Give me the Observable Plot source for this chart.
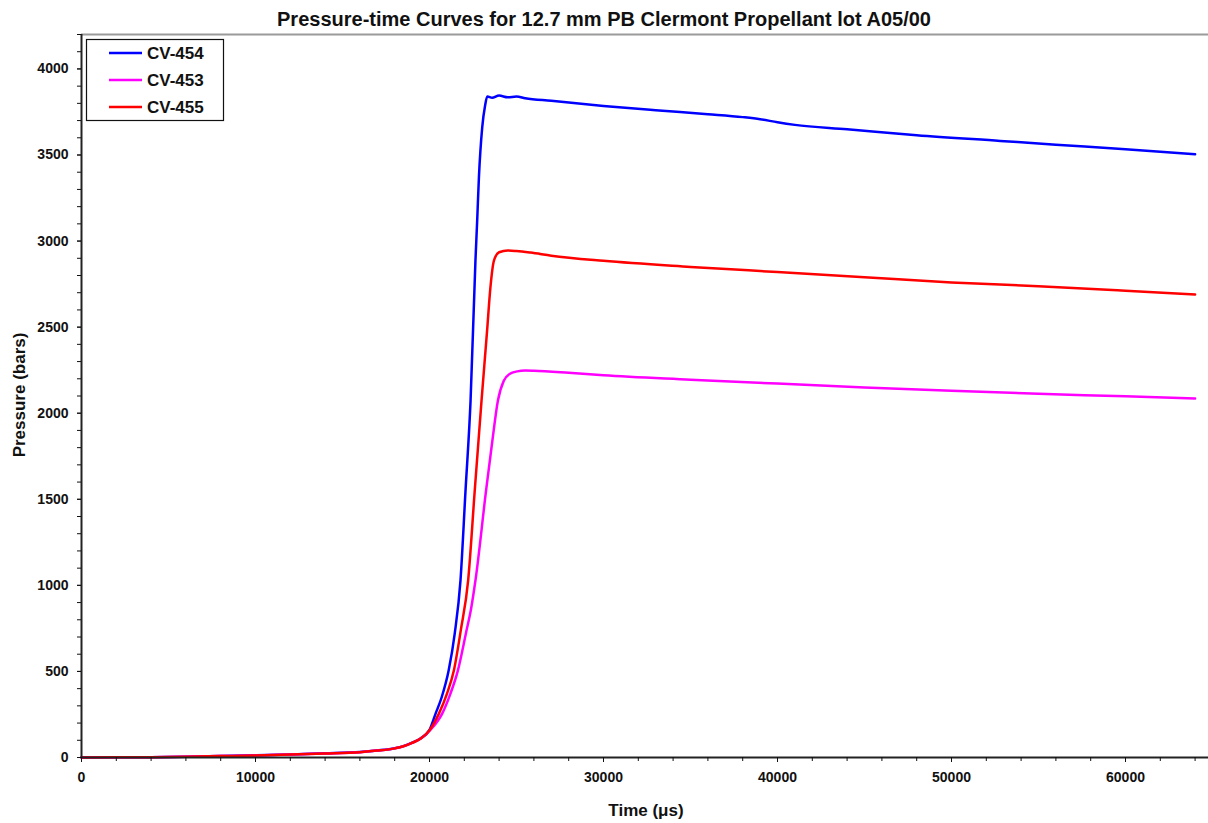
<!DOCTYPE html>
<html>
<head>
<meta charset="utf-8">
<script src="https://cdn.jsdelivr.net/npm/d3@7"></script>
<script src="https://cdn.jsdelivr.net/npm/@observablehq/plot@0.6"></script>
<style>
  body { margin: 0; background: #fff; }
  #wrap { position: relative; width: 1208px; height: 823px; font-family: "Liberation Sans", Arial, sans-serif; }
  #overlay { position: absolute; left: 0; top: 0; pointer-events: none; }
</style>
</head>
<body>
<div id="wrap"></div>
<script>
// ---- Data ----
const titleText = "Pressure-time Curves for 12.7 mm PB Clermont Propellant lot A05/00";
const xLabel = "Time (\u03bcs)";
const yLabel = "Pressure (bars)";
const seriesNames = ["CV-454", "CV-453", "CV-455"];
const seriesColors = ["#0000ff", "#ff00ff", "#ff0000"];

const xTicks = [0, 10000, 20000, 30000, 40000, 50000, 60000];
const yTicks = [0, 500, 1000, 1500, 2000, 2500, 3000, 3500, 4000];

const cv454Time = [0, 2000, 4000, 6000, 8000, 10000, 12000, 14000, 16000, 17000, 18000, 18500, 19000, 19500,
  20000, 20350, 20700, 21100, 21450, 21780, 22070, 22360, 22640, 22740, 22840, 23030, 23200, 23320, 23600,
  24000, 24500, 25000, 25500, 27000, 30000, 33000, 36000, 38000, 39000, 40000, 41000, 44000, 48000, 52800,
  56000, 60000, 64000];
const cv454Pressure = [0, 1, 2, 5, 9, 13, 18, 24, 32, 41, 54, 66, 86, 112,
  160, 255, 350, 505, 720, 1028, 1550, 2073, 2885, 3118, 3370, 3660, 3790, 3840, 3832,
  3845, 3835, 3840, 3830, 3815, 3785, 3760, 3737, 3720, 3708, 3690, 3675, 3650, 3615, 3582,
  3560, 3533, 3504];

const cv453Time = [0, 2000, 4000, 6000, 8000, 10000, 12000, 14000, 16000, 17000, 18000, 18500, 19000, 19500,
  20000, 20730, 21200, 21630, 22100, 22400, 22640, 23250, 23600, 23930, 24270, 24600, 25040, 25500, 26000,
  28000, 30000, 35000, 40000, 45000, 50000, 55000, 60000, 64000];
const cv453Pressure = [0, 1, 2, 4, 8, 12, 17, 23, 31, 40, 53, 65, 85, 110,
  155, 255, 370, 505, 725, 870, 1028, 1550, 1830, 2073, 2189, 2228, 2243, 2248, 2247,
  2235, 2220, 2195, 2172, 2150, 2130, 2113, 2098, 2085];

const cv455Time = [0, 2000, 4000, 6000, 8000, 10000, 12000, 14000, 16000, 17000, 18000, 18500, 19000, 19500,
  20000, 20540, 21000, 21400, 21800, 22220, 22600, 22990, 23310, 23500, 23700, 24000, 24500, 25000, 25800,
  27000, 30000, 35000, 40000, 45000, 50000, 55000, 60000, 64000];
const cv455Pressure = [0, 1, 2, 4, 8, 12, 17, 23, 31, 40, 53, 65, 85, 110,
  158, 255, 370, 505, 740, 1028, 1550, 2073, 2480, 2730, 2885, 2935, 2945, 2942, 2933,
  2915, 2885, 2850, 2820, 2790, 2760, 2738, 2712, 2690];

// ---- Build table ----
const toRows = (name, ts, ps) => ts.map((t, i) => ({series: name, time: t, pressure: ps[i]}));
const rows454 = toRows("CV-454", cv454Time, cv454Pressure);
const rows453 = toRows("CV-453", cv453Time, cv453Pressure);
const rows455 = toRows("CV-455", cv455Time, cv455Pressure);

const W = 1208, H = 823;
const mL = 81, mT = 34, mR = 0, mB = 66;
const xMax = 64770, yMax = 4200;

const chart = Plot.plot({
  width: W,
  height: H,
  marginLeft: mL,
  marginTop: mT,
  marginRight: mR,
  marginBottom: mB,
  style: {fontFamily: "'Liberation Sans', Arial, sans-serif", fontSize: "14px", fontWeight: "bold", color: "#111", background: "#fff"},
  x: {domain: [0, xMax]},
  y: {domain: [0, yMax]},
  marks: [
    Plot.ruleY([yMax], {stroke: "#9a9a9a", strokeWidth: 2}),
    Plot.line(rows454, {x: "time", y: "pressure", stroke: seriesColors[0], strokeWidth: 2.5, curve: "monotone-x"}),
    Plot.line(rows453, {x: "time", y: "pressure", stroke: seriesColors[1], strokeWidth: 2.5, curve: "monotone-x"}),
    Plot.line(rows455, {x: "time", y: "pressure", stroke: seriesColors[2], strokeWidth: 2.5, curve: "monotone-x"}),
    Plot.ruleX([0], {stroke: "#222", strokeWidth: 2}),
    Plot.ruleY([0], {stroke: "#222", strokeWidth: 2}),
    Plot.axisY(yTicks, {tickSize: 4, tickPadding: 9, label: null, tickFormat: d => String(d)}),
    Plot.axisY(d3.range(0, yMax + 1, 100), {tickSize: 4, label: null, tickFormat: () => null}),
    Plot.axisX(xTicks, {tickSize: 5, tickPadding: 10, label: null, tickFormat: d => String(d)}),
    Plot.axisX(d3.range(0, xMax, 2000), {tickSize: 4, label: null, tickFormat: () => null})
  ]
});

const wrap = document.getElementById("wrap");
wrap.appendChild(chart);

// ---- Overlay: title, axis labels, legend ----
const ov = d3.select(wrap).append("svg")
  .attr("id", "overlay")
  .attr("width", W).attr("height", H)
  .style("font-family", "'Liberation Sans', Arial, sans-serif")
  .style("font-weight", "bold")
  .style("fill", "#111");

ov.append("text").attr("x", 604).attr("y", 26).attr("text-anchor", "middle")
  .style("font-size", "20px").text(titleText);
ov.append("text").attr("x", 646).attr("y", 816).attr("text-anchor", "middle")
  .style("font-size", "17px").text(xLabel);
ov.append("text").attr("transform", "translate(25,395) rotate(-90)").attr("text-anchor", "middle")
  .style("font-size", "17px").text(yLabel);

const lg = ov.append("g");
lg.append("rect").attr("x", 86.5).attr("y", 39.5).attr("width", 137).attr("height", 81)
  .attr("fill", "#fff").attr("stroke", "#111").attr("stroke-width", 1.2);
seriesNames.forEach((name, i) => {
  const cy = 53 + i * 27;
  lg.append("line").attr("x1", 109).attr("x2", 142).attr("y1", cy).attr("y2", cy)
    .attr("stroke", seriesColors[i]).attr("stroke-width", 2.5);
  lg.append("text").attr("x", 147).attr("y", cy + 6.3).style("font-size", "17px").text(name);
});
</script>
</body>
</html>
